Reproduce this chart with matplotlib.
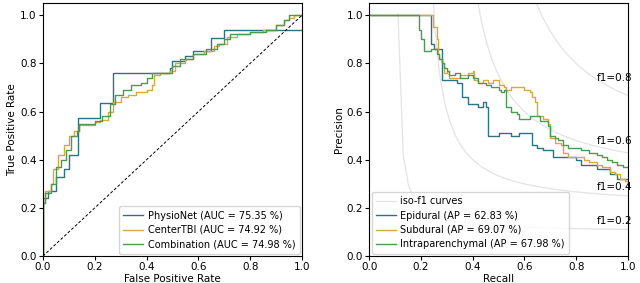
import numpy as np
import matplotlib
matplotlib.use("Agg")
import matplotlib.pyplot as plt

# ---------------- ROC data (left) ----------------
physio_fpr = [0.0, 0.0, 0.02, 0.05, 0.08, 0.10, 0.135, 0.22, 0.27, 0.49, 0.50, 0.55, 0.58, 0.65, 0.70, 1.0]
physio_tpr = [0.0, 0.24, 0.27, 0.33, 0.36, 0.42, 0.575, 0.635, 0.76, 0.78, 0.81, 0.83, 0.85, 0.905, 0.94, 0.94]

center_fpr = [0.0, 0.0, 0.01, 0.03, 0.04, 0.06, 0.08, 0.10, 0.12, 0.14, 0.20, 0.22, 0.25, 0.27, 0.30, 0.33,
              0.36, 0.40, 0.42, 0.43, 0.45, 0.49, 0.51, 0.55, 0.58, 0.62, 0.66, 0.68, 0.71, 0.75, 0.80,
              0.85, 0.90, 0.93, 0.95, 0.97, 1.0]
center_tpr = [0.0, 0.22, 0.27, 0.30, 0.36, 0.42, 0.46, 0.50, 0.52, 0.545, 0.555, 0.565, 0.60, 0.64, 0.66, 0.67,
              0.68, 0.69, 0.71, 0.75, 0.76, 0.77, 0.80, 0.82, 0.84, 0.85, 0.87, 0.88, 0.91, 0.92, 0.93,
              0.94, 0.96, 0.98, 0.99, 1.0, 1.0]

comb_fpr = [0.0, 0.0, 0.01, 0.03, 0.05, 0.07, 0.09, 0.11, 0.13, 0.14, 0.20, 0.23, 0.26, 0.28, 0.31, 0.34,
            0.38, 0.40, 0.42, 0.48, 0.50, 0.53, 0.58, 0.63, 0.67, 0.70, 0.72, 0.80, 0.86, 0.90, 0.93,
            0.95, 1.0]
comb_tpr = [0.0, 0.22, 0.26, 0.30, 0.37, 0.40, 0.44, 0.50, 0.52, 0.55, 0.56, 0.58, 0.63, 0.67, 0.69, 0.71,
            0.72, 0.74, 0.76, 0.76, 0.79, 0.82, 0.84, 0.86, 0.88, 0.90, 0.92, 0.93, 0.94, 0.96, 0.98,
            1.0, 1.0]

roc_labels = ["PhysioNet (AUC = 75.35 %)", "CenterTBI (AUC = 74.92 %)", "Combination (AUC = 74.98 %)"]

# ---------------- PR data (right) ----------------
epi_rec = [0.0, 0.24, 0.25, 0.27, 0.28, 0.34, 0.36, 0.38, 0.42, 0.44, 0.45, 0.46, 0.50, 0.55, 0.58,
           0.63, 0.65, 0.67, 0.71, 0.80, 0.82, 0.88, 0.93, 0.96, 1.0]
epi_prec = [1.0, 0.88, 0.86, 0.86, 0.73, 0.72, 0.66, 0.63, 0.62, 0.64, 0.62, 0.50, 0.51, 0.50, 0.51,
            0.46, 0.45, 0.44, 0.41, 0.40, 0.38, 0.36, 0.34, 0.32, 0.32]

sub_rec = [0.0, 0.245, 0.26, 0.265, 0.27, 0.28, 0.29, 0.30, 0.31, 0.33, 0.35, 0.38, 0.40, 0.405, 0.42,
           0.44, 0.46, 0.48, 0.50, 0.52, 0.53, 0.55, 0.58, 0.60, 0.62, 0.63, 0.64, 0.65, 0.67, 0.69,
           0.70, 0.72, 0.74, 0.75, 0.77, 0.80, 0.83, 0.85, 0.88, 0.90, 0.93, 0.95, 0.97, 0.99, 1.0]
sub_prec = [1.0, 0.95, 0.90, 0.84, 0.82, 0.80, 0.76, 0.77, 0.74, 0.74, 0.75, 0.76, 0.77, 0.73, 0.72,
            0.73, 0.72, 0.73, 0.71, 0.70, 0.69, 0.70, 0.70, 0.69, 0.68, 0.66, 0.64, 0.58, 0.57, 0.55,
            0.49, 0.47, 0.46, 0.43, 0.41, 0.41, 0.40, 0.39, 0.38, 0.37, 0.35, 0.34, 0.32, 0.31, 0.30]

intra_rec = [0.0, 0.193, 0.20, 0.21, 0.215, 0.24, 0.26, 0.27, 0.28, 0.29, 0.30, 0.31, 0.33, 0.35, 0.38,
             0.40, 0.42, 0.45, 0.47, 0.50, 0.51, 0.52, 0.53, 0.55, 0.57, 0.58, 0.62, 0.66, 0.69, 0.70,
             0.72, 0.73, 0.75, 0.77, 0.80, 0.82, 0.85, 0.88, 0.90, 0.92, 0.94, 0.96, 0.98, 1.0]
intra_prec = [1.0, 0.94, 0.90, 0.85, 0.85, 0.86, 0.84, 0.82, 0.80, 0.78, 0.77, 0.75, 0.76, 0.74, 0.75,
              0.74, 0.72, 0.71, 0.70, 0.69, 0.68, 0.69, 0.62, 0.60, 0.59, 0.57, 0.58, 0.56, 0.54, 0.50,
              0.49, 0.48, 0.46, 0.45, 0.45, 0.44, 0.43, 0.42, 0.41, 0.40, 0.39, 0.38, 0.37, 0.37]

pr_labels = ["Epidural (AP = 62.83 %)", "Subdural (AP = 69.07 %)", "Intraparenchymal (AP = 67.98 %)"]
f_scores = [0.2, 0.4, 0.6, 0.8]

colors = ["#2f7282", "#d9a83c", "#4c9a52"]
FS = 7.5
LFS = 7

fig = plt.figure(figsize=(6.4, 2.83), dpi=100)
ax1 = fig.add_axes([0.067, 0.095, 0.405, 0.894])
ax2 = fig.add_axes([0.577, 0.095, 0.404, 0.894])

leg_kw = dict(fontsize=LFS, handlelength=2.0, handletextpad=0.5, borderpad=0.45,
              labelspacing=0.45, borderaxespad=0.25)

for fpr, tpr, c, lab in zip([physio_fpr, center_fpr, comb_fpr], [physio_tpr, center_tpr, comb_tpr],
                            colors, roc_labels):
    ax1.plot(fpr, tpr, drawstyle="steps-post", color=c, lw=1.0, label=lab)
ax1.plot([0, 1], [0, 1], color="black", ls="--", lw=0.7, dashes=(3, 2))
ax1.set_xlim(0, 1.0)
ax1.set_ylim(0, 1.05)
ax1.set_xlabel("False Positive Rate", fontsize=FS, labelpad=1)
ax1.set_ylabel("True Positive Rate", fontsize=FS, labelpad=2)
ax1.tick_params(labelsize=FS, length=3, pad=1.5)
ax1.legend(loc="lower right", **leg_kw)

# iso-f1 curves
first = True
for f in f_scores:
    x = np.linspace(0.01, 1, 50)
    y = f * x / (2 * x - f)
    m = y >= 0
    ax2.plot(x[m], y[m], color="gray", alpha=0.2, lw=1.0, label="iso-f1 curves" if first else None)
    first = False
    t = ax2.annotate("f1={0:0.1f}".format(f), xy=(0.88, y[45] + 0.02), fontsize=FS)
    t.set_clip_on(True)

for r, p, c, lab in zip([epi_rec, sub_rec, intra_rec], [epi_prec, sub_prec, intra_prec], colors, pr_labels):
    ax2.plot(r, p, drawstyle="steps-post", color=c, lw=1.0, label=lab)
ax2.set_xlim(0, 1.0)
ax2.set_ylim(0, 1.05)
ax2.set_xlabel("Recall", fontsize=FS, labelpad=1)
ax2.set_ylabel("Precision", fontsize=FS, labelpad=2)
ax2.tick_params(labelsize=FS, length=3, pad=1.5)
ax2.legend(loc="lower left", **leg_kw)

fig.savefig("out.png", dpi=100)
